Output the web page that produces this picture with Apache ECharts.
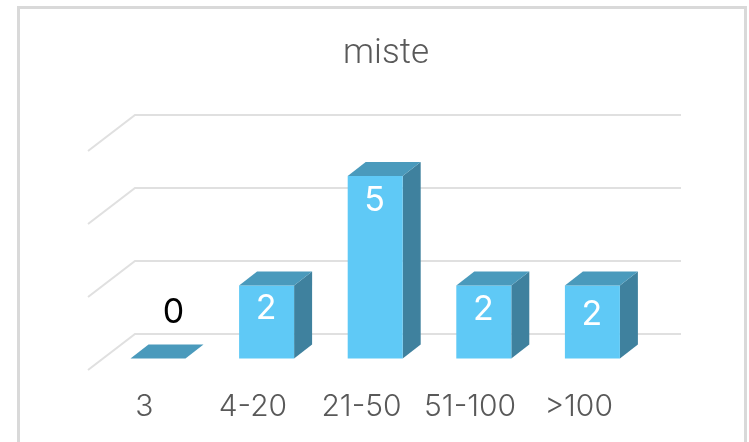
<!DOCTYPE html>
<html>
<head>
<meta charset="utf-8">
<style>
  html, body { margin: 0; padding: 0; background: #fff; }
  #main { width: 749px; height: 442px; }
</style>
<script src="https://cdn.jsdelivr.net/npm/echarts@6/dist/echarts.min.js"></script>
</head>
<body>
<div id="main"></div>
<script>
var categories = ['3', '4-20', '21-50', '51-100', '>100'];
var values = [0, 2, 5, 2, 2];
var wallTicks = [0, 2, 4, 6];

// fake 3d projection, in pixels
var wallDepth = [47, -36];
var wallInset = 2;
var barOffset = [13.7, -11.5];
var barDepth = [18, -14];
var barWidth = 55;
// the original labels do not sit at the same height on every bar
var labelNudge = [0, -1, 1, 0, 5];

var myChart = echarts.init(document.getElementById('main'));

function renderWall(params, api) {
    var rect = params.coordSys;
    var y = api.coord([0, api.value(0)])[1];
    var x0 = rect.x - wallInset;
    return {
        type: 'polyline',
        shape: {
            points: [
                [x0, y],
                [x0 + wallDepth[0], y + wallDepth[1]],
                [rect.x + rect.width + wallDepth[0] + 1, y + wallDepth[1]]
            ]
        },
        style: { stroke: '#e0e0e0', lineWidth: 2, fill: null }
    };
}

function renderBar(params, api) {
    var idx = api.value(0);
    var val = api.value(1);
    var top = api.coord([idx, val]);
    var base = api.coord([idx, 0]);
    var x0 = top[0] + barOffset[0] - barWidth / 2;
    var x1 = x0 + barWidth;
    var yb = base[1] + barOffset[1];
    var yt = top[1] + barOffset[1];
    var dx = barDepth[0];
    var dy = barDepth[1];
    var children = [];
    if (val > 0) {
        children.push({
            type: 'polygon',
            shape: { points: [[x1, yt], [x1 + dx, yt + dy], [x1 + dx, yb + dy], [x1, yb]] },
            style: { fill: '#3f819e' }
        });
        children.push({
            type: 'rect',
            shape: { x: x0, y: yt, width: barWidth, height: yb - yt },
            style: { fill: '#5fc9f6' }
        });
    }
    children.push({
        type: 'polygon',
        shape: { points: [[x0, yt], [x0 + dx, yt + dy], [x1 + dx, yt + dy], [x1, yt]] },
        style: { fill: '#4a9abc' }
    });
    children.push({
        type: 'text',
        style: {
            text: String(val),
            x: val > 0 ? (x0 + x1) / 2 - 0.5 : x0 + 43,
            y: (val > 0 ? yt + 24 : yt - 46) + labelNudge[params.dataIndex],
            align: 'center',
            verticalAlign: 'middle',
            font: '400 34px Inter',
            fill: val > 0 ? '#ffffff' : '#000000'
        }
    });
    return { type: 'group', children: children };
}

option = {
    animation: false,
    backgroundColor: '#ffffff',
    title: {
        text: 'miste',
        left: 381,
        top: 32,
        textAlign: 'center',
        textStyle: { color: '#595959', fontFamily: 'Roboto', fontWeight: 300, fontSize: 35 }
    },
    graphic: [{
        type: 'rect',
        shape: { x: 18.5, y: 7.5, width: 727, height: 460 },
        style: { fill: 'none', stroke: '#d9d9d9', lineWidth: 3 },
        silent: true
    }],
    grid: { left: 90, right: 116, top: 151, bottom: 72 },
    xAxis: {
        type: 'category',
        data: categories,
        axisLine: { show: false },
        axisTick: { show: false },
        axisLabel: {
            interval: 0,
            margin: 22,
            color: '#595959',
            fontFamily: 'Inter',
            fontWeight: 300,
            fontSize: 30
        }
    },
    yAxis: {
        type: 'value',
        min: 0,
        max: 6,
        interval: 2,
        axisLine: { show: false },
        axisTick: { show: false },
        axisLabel: { show: false },
        splitLine: { show: false }
    },
    series: [
        {
            type: 'custom',
            renderItem: renderWall,
            data: wallTicks.map(function (t) { return [t]; }),
            encode: { y: 0 },
            clip: false,
            silent: true,
            z: 1
        },
        {
            type: 'custom',
            renderItem: renderBar,
            data: values.map(function (v, i) { return [i, v]; }),
            encode: { x: 0, y: 1 },
            clip: false,
            z: 2
        }
    ]
};

myChart.setOption(option);
</script>
</body>
</html>
